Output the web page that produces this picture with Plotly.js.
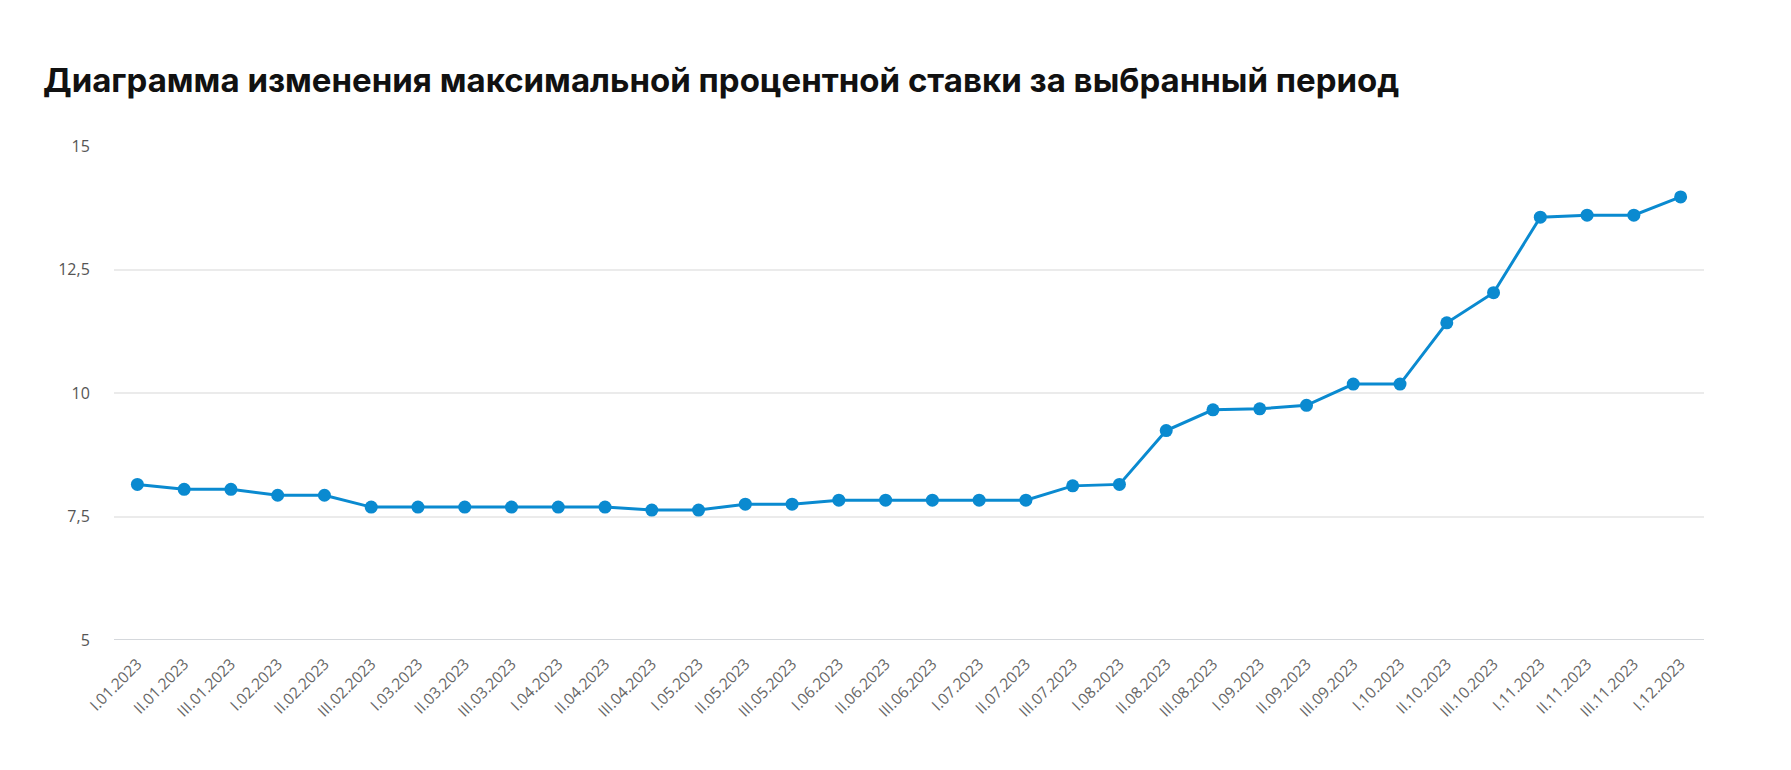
<!DOCTYPE html>
<html>
<head>
<meta charset="utf-8">
<script src="https://cdn.plot.ly/plotly-3.0.1.min.js"></script>
<style>
html,body{margin:0;padding:0;background:#fff;}
#chart{width:1791px;height:770px;}
</style>
</head>
<body>
<div id="chart"></div>
<script>
const categories = [
  "I.01.2023","II.01.2023","III.01.2023",
  "I.02.2023","II.02.2023","III.02.2023",
  "I.03.2023","II.03.2023","III.03.2023",
  "I.04.2023","II.04.2023","III.04.2023",
  "I.05.2023","II.05.2023","III.05.2023",
  "I.06.2023","II.06.2023","III.06.2023",
  "I.07.2023","II.07.2023","III.07.2023",
  "I.08.2023","II.08.2023","III.08.2023",
  "I.09.2023","II.09.2023","III.09.2023",
  "I.10.2023","II.10.2023","III.10.2023",
  "I.11.2023","II.11.2023","III.11.2023",
  "I.12.2023"
];
const maxRate = [
  8.15, 8.05, 8.05,
  7.93, 7.93, 7.69,
  7.69, 7.69, 7.69,
  7.69, 7.69, 7.63,
  7.63, 7.75, 7.75,
  7.83, 7.83, 7.83,
  7.83, 7.83, 8.12,
  8.15, 9.24, 9.66,
  9.68, 9.75, 10.18,
  10.18, 11.42, 12.03,
  13.56, 13.60, 13.60,
  13.97
];
const yTicks = [5, 7.5, 10, 12.5, 15];
const titleText = "Диаграмма изменения максимальной процентной ставки за выбранный период";

const trace = {
  x: categories,
  y: maxRate,
  type: 'scatter',
  mode: 'lines+markers',
  line: {color: '#0a8ad0', width: 3},
  marker: {color: '#0a8ad0', size: 13},
  hoverinfo: 'x+y'
};

const layout = {
  width: 1791,
  height: 770,
  paper_bgcolor: '#fff',
  plot_bgcolor: '#fff',
  separators: ', ',
  showlegend: false,
  margin: {l: 114, r: 87, t: 146, b: 130},
  title: {
    text: '<b>' + titleText + '</b>',
    font: {family: 'Inter, "Noto Sans", sans-serif', size: 33, color: '#111'},
    xref: 'container', yref: 'container',
    x: 43/1791, xanchor: 'left',
    y: 1 - 80/770, yanchor: 'middle'
  },
  xaxis: {
    type: 'category',
    range: [-0.5, categories.length - 0.5],
    showgrid: false,
    zeroline: false,
    showline: false,
    tickangle: -45,
    ticks: 'outside',
    ticklen: 8,
    tickcolor: 'rgba(0,0,0,0)',
    tickfont: {family: '"Open Sans", sans-serif', size: 15.5, color: '#666'},
    fixedrange: true
  },
  yaxis: {
    range: [5, 15],
    tickvals: yTicks,
    showgrid: true,
    gridcolor: '#ebebeb',
    gridwidth: 2,
    zeroline: false,
    showline: false,
    ticks: 'outside',
    ticklen: 20,
    tickcolor: 'rgba(0,0,0,0)',
    tickfont: {family: '"Open Sans", sans-serif', size: 16, color: '#555'},
    fixedrange: true
  },
  shapes: [{
    type: 'line', xref: 'paper', yref: 'y',
    x0: 0, x1: 1, y0: 5, y1: 5,
    line: {color: '#d5d8dc', width: 2},
    layer: 'below'
  }]
};

Plotly.newPlot('chart', [trace], layout, {displayModeBar: false});
</script>
</body>
</html>
